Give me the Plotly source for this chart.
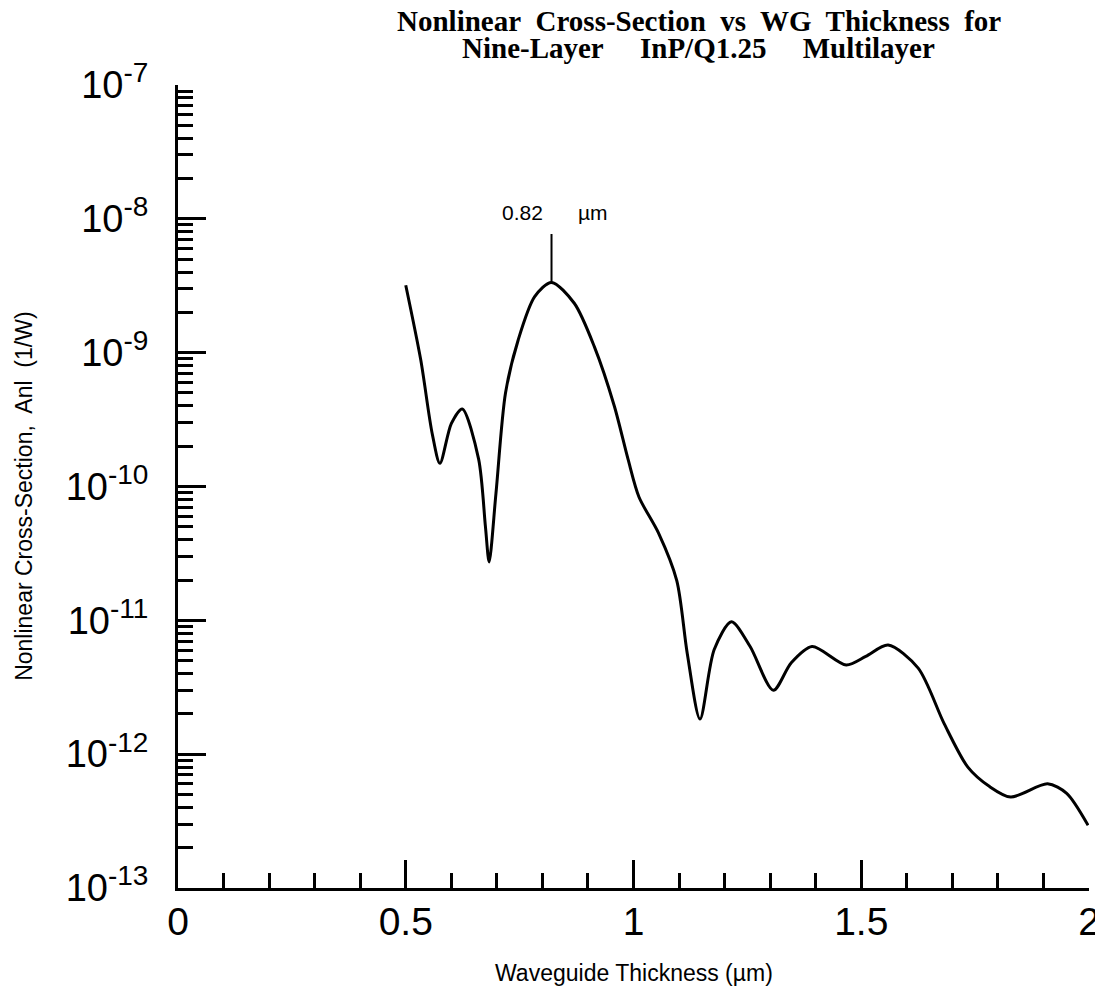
import plotly.graph_objects as go

# Waveguide thickness (um) and nonlinear cross-section (1/W)
thickness = [0.50, 0.533, 0.558, 0.575, 0.600, 0.624, 0.660, 0.675, 0.683, 0.698,
             0.719, 0.747, 0.783, 0.82, 0.870, 0.914, 0.958, 0.988, 1.012, 1.055,
             1.095, 1.118, 1.146, 1.177, 1.215, 1.256, 1.307, 1.346, 1.392, 1.467,
             1.510, 1.559, 1.625, 1.682, 1.734, 1.781, 1.828, 1.909, 1.951, 1.998]
cross_section = [3.19e-9, 8.8e-10, 2.49e-10, 1.49e-10, 2.95e-10, 3.8e-10, 1.6e-10, 4.99e-11, 2.73e-11, 8.85e-11,
                 5.0e-10, 1.25e-9, 2.62e-9, 3.35e-9, 2.34e-9, 1.11e-9, 3.98e-10, 1.6e-10, 8.35e-11, 4.48e-11,
                 1.98e-11, 5.66e-12, 1.83e-12, 6.03e-12, 9.76e-12, 6.37e-12, 3.0e-12, 4.8e-12, 6.37e-12, 4.64e-12,
                 5.38e-12, 6.53e-12, 4.39e-12, 1.69e-12, 8.0e-13, 5.75e-13, 4.78e-13, 6.0e-13, 5.1e-13, 2.94e-13]

peak_x = [0.82, 0.82]
peak_y = [3.35e-9, 7.7e-9]
peak_label = "0.82&nbsp;&nbsp;&nbsp;&nbsp;&nbsp;&nbsp;µm"

x_ticks = [0, 0.5, 1, 1.5, 2]
x_ticktext = ["0", "0.5", "1", "1.5", "2"]
y_exponents = [-13, -12, -11, -10, -9, -8, -7]
y_ticks = [10.0 ** e for e in y_exponents]
y_ticktext = ["10<sup><span style='font-size:28px'>-%d</span></sup>" % -e for e in y_exponents]
y_minor = [m * 10.0 ** e for e in y_exponents[:-1] for m in range(2, 10)]

title_lines = ["<b>Nonlinear&nbsp; Cross-Section&nbsp; vs&nbsp; WG&nbsp; Thickness&nbsp; for</b>",
               "<b>Nine-Layer&nbsp;&nbsp;&nbsp;&nbsp; InP/Q1.25&nbsp;&nbsp;&nbsp;&nbsp; Multilayer</b>"]
x_title = "Waveguide Thickness (µm)"
y_title = "Nonlinear Cross-Section,&nbsp; Anl&nbsp; (1/W)"

SANS = "Liberation Sans, Arial, Helvetica"
SERIF = "Liberation Serif, Times New Roman"

fig = go.Figure()
fig.add_trace(go.Scatter(x=thickness, y=cross_section, mode="lines",
                         line=dict(color="black", width=3, shape="spline", smoothing=0.8),
                         showlegend=False, hoverinfo="x+y"))
fig.add_trace(go.Scatter(x=peak_x, y=peak_y, mode="lines",
                         line=dict(color="black", width=2),
                         showlegend=False, hoverinfo="skip"))

fig.add_annotation(x=0.8265, y=-7.955, xref="x", yref="y", text=peak_label,
                   showarrow=False, font=dict(family=SANS, size=21, color="black"))

# title (two lines, tight leading)
fig.add_annotation(x=0.5716, y=1.0803, xref="paper", yref="paper", text=title_lines[0],
                   showarrow=False, xanchor="center", yanchor="middle", borderpad=0,
                   font=dict(family=SERIF, size=29, color="black"))
fig.add_annotation(x=0.5716, y=1.0461, xref="paper", yref="paper", text=title_lines[1],
                   showarrow=False, xanchor="center", yanchor="middle", borderpad=0,
                   font=dict(family=SERIF, size=29, color="black"))

# axis titles
fig.add_annotation(x=0.5, y=-0.1059, xref="paper", yref="paper", text=x_title,
                   showarrow=False, xanchor="center", yanchor="middle",
                   font=dict(family=SANS, size=23, color="black"))
fig.add_annotation(x=-0.1692, y=0.4882, xref="paper", yref="paper", text=y_title,
                   showarrow=False, xanchor="center", yanchor="middle", textangle=-90,
                   font=dict(family=SANS, size=23, color="black"))

fig.update_layout(
    width=1103, height=999,
    margin=dict(l=170, r=11, t=77, b=119),
    paper_bgcolor="white", plot_bgcolor="white",
    font=dict(family=SANS, color="black"),
)

fig.update_xaxes(
    range=[0, 2], showgrid=False, zeroline=False,
    showline=True, linewidth=3, linecolor="black",
    tickmode="array", tickvals=x_ticks, ticktext=x_ticktext,
    ticks="inside", ticklen=28, tickwidth=3, tickcolor="black",
    tickfont=dict(size=39, family=SANS, color="black"),
    ticklabelstandoff=-3,
    minor=dict(dtick=0.1, tick0=0, ticks="inside", ticklen=15, tickwidth=3,
               tickcolor="black", showgrid=False),
)

fig.update_yaxes(
    type="log", range=[-13, -7], showgrid=False, zeroline=False,
    showline=True, linewidth=3, linecolor="black",
    tickmode="array", tickvals=y_ticks, ticktext=y_ticktext,
    ticks="inside", ticklen=28, tickwidth=3, tickcolor="black",
    tickfont=dict(size=38, family=SANS, color="black"),
    ticklabelstandoff=19,
    minor=dict(tickmode="array", tickvals=y_minor, ticks="inside", ticklen=15, tickwidth=3,
               tickcolor="black", showgrid=False),
)

fig.write_html("out.html")
